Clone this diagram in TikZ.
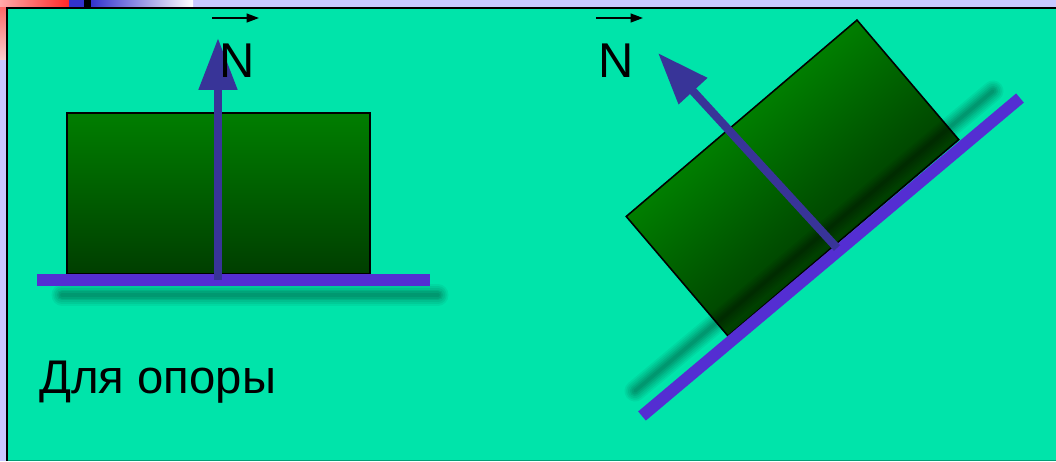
\documentclass[tikz,border=0pt]{standalone}
\usepackage{fontspec}
\setmainfont{Liberation Sans}
\usetikzlibrary{arrows.meta,positioning}
\definecolor{slidebg}{RGB}{0,228,170}
\definecolor{framebg}{RGB}{200,200,255}
\definecolor{support}{RGB}{84,46,210}
\definecolor{forceblue}{RGB}{56,52,152}
\definecolor{blocktop}{RGB}{0,126,0}
\definecolor{blockbot}{RGB}{0,62,0}
\definecolor{cornerred}{RGB}{255,40,40}
\definecolor{cornerpink}{RGB}{255,170,170}
\definecolor{cornerblue}{RGB}{51,51,204}
\tikzset{
    >=Stealth,
    block/.style={draw=black, line width=0.9pt, top color=blocktop, bottom color=blockbot},
    surface/.style={draw=support, line width=6.8pt},
    force/.style={draw=forceblue, line width=4.7pt, -{Triangle[length=29.5pt,width=21pt]}},
    vecmark/.style={draw=black, line width=0.9pt, -{Triangle[length=7pt,width=5pt]}},
    nlabel/.style={font=\fontsize{27.8}{30}\selectfont, inner sep=0pt, anchor=base},
    signtext/.style={font=\fontsize{26.9}{30}\selectfont, inner sep=0pt, anchor=base west}
}

\begin{document}
\begin{tikzpicture}[x=0.02cm, y=-0.02cm]
    \useasboundingbox (0,0) rectangle (1056,461);
    \fill[framebg] (0,0) rectangle (1056,461);
    % slide corner
    \shade[left color=cornerpink, right color=cornerred] (0,0) rectangle (69,7);
    \shade[top color=cornerred!70!white, bottom color=cornerpink!60!white] (0,7) rectangle (6,59);
    \fill[cornerblue] (69,0) rectangle (84,7);
    \fill[black] (84,0) rectangle (91,7);
    \shade[left color=cornerblue, right color=white] (91,0) rectangle (193,7);
    \fill[slidebg] (7,8) rectangle (1056,461);
    \draw[black, line width=1.2pt] (7,461) -- (7,8) -- (1056,8);
    \draw[slidebg!70!black, line width=0.6pt] (8,460.5) -- (1056,460.5);

    % horizontal support
    \shade[block] (67,113) rectangle (370,274);
    \foreach \w/\o in {12/0.05, 10/0.06, 8/0.06, 6/0.07, 4/0.07, 2/0.07}
        \draw[black, opacity=\o, line width=\w pt, line cap=round] (62,295) -- (438,295);
    \draw[surface] (37,280) -- (430,280);
    \coordinate (baseL) at (218,280);
    \coordinate (tipL) at (218,38);
    \draw[force] (baseL) -- (tipL);
    \node[nlabel] (nLeft) at (237,77) {N};
    \draw[vecmark] ([shift={(-25,-59)}]nLeft.base) -- ([shift={(22,-59)}]nLeft.base);
    \node[signtext] (caption) at (39,393) {Для опоры};

    % inclined support
    \begin{scope}[transform canvas={rotate around={40.4:(728,336)}}]
        \shade[block] (728,336) rectangle (1031,179);
    \end{scope}
    \foreach \w/\o in {12/0.05, 10/0.06, 8/0.06, 6/0.07, 4/0.07, 2/0.07}
        \draw[black, opacity=\o, line width=\w pt, line cap=round] (635,391) -- (993,91);
    \draw[surface] (642,416) -- (1020,98);
    \coordinate (baseR) at (837,248);
    \coordinate (tipR) at (658,53);
    \draw[force] (baseR) -- (tipR);
    \node[nlabel] (nRight) at (616,77) {N};
    \draw[vecmark] ([shift={(-20,-59)}]nRight.base) -- ([shift={(27,-59)}]nRight.base);
\end{tikzpicture}
\end{document}
